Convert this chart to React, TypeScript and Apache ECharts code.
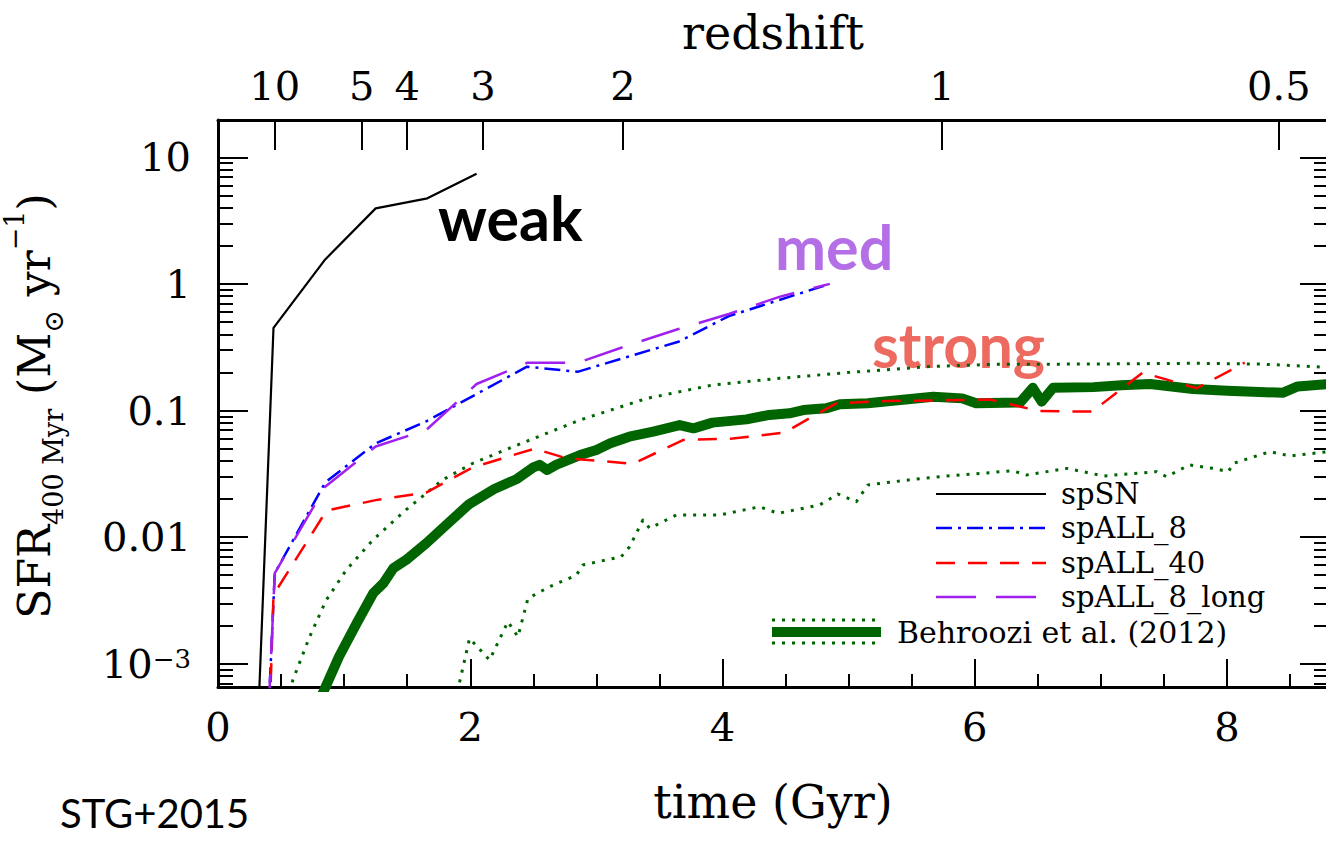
import { useEffect, useRef } from "react";
import * as echarts from "echarts";

// ---------- axis ticks ----------
const TIME_TICKS = [0, 2, 4, 6, 8];
const TIME_MINOR_TICKS = [0.5, 1, 1.5, 2.5, 3, 3.5, 4.5, 5, 5.5, 6.5, 7, 7.5, 8.5];
const REDSHIFT_LABELS = ["10", "5", "4", "3", "2", "1", "0.5"];
const REDSHIFT_TIMES = [0.45, 1.14, 1.5, 2.1, 3.21, 5.74, 8.41];
const SFR_MAJOR = [0.001, 0.01, 0.1, 1, 10];
const SFR_LABELS = ["{b|10}{p|−3}", "0.01", "0.1", "1", "10"];

const X_MIN = 0;
const X_MAX = 8.8;
const SFR_MIN = 6.55e-4;
const SFR_MAX = 19.7;

// ---------- series data (time in Gyr, SFR in Msun/yr) ----------
const SN_TIME = [0.32, 0.44, 0.85, 1.25, 1.66, 2.05];
const SN_SFR = [0.0004, 0.45, 1.56, 3.95, 4.74, 7.4];

const ALL8_TIME = [0.4, 0.45, 0.85, 1.25, 1.65, 2.05, 2.45, 2.85, 3.25, 3.65, 4.05, 4.45, 4.85];
const ALL8_SFR = [0.0004, 0.0052, 0.027, 0.055, 0.082, 0.135, 0.222, 0.202, 0.266, 0.349, 0.557, 0.746, 1.0];

const LONG_TIME = [0.4, 0.45, 0.85, 1.25, 1.65, 2.05, 2.45, 2.85, 3.25, 3.65, 4.05, 4.45, 4.85];
const LONG_SFR = [0.0004, 0.0052, 0.025, 0.052, 0.07, 0.162, 0.238, 0.238, 0.327, 0.44, 0.578, 0.79, 1.0];

const ALL40_TIME = [0.41, 0.44, 0.86, 1.25, 1.65, 2.02, 2.51, 2.76, 3.29, 3.69, 4.08, 4.49, 4.9, 5.3, 5.7, 6.12, 6.51, 6.93, 7.33, 7.76, 8.14];
const ALL40_SFR = [0.0004, 0.0035, 0.0162, 0.0196, 0.0225, 0.0356, 0.05, 0.042, 0.038, 0.0585, 0.06, 0.067, 0.114, 0.119, 0.12, 0.122, 0.099, 0.098, 0.199, 0.15, 0.239];

const BEH_TIME = [0.8, 0.96, 1.1, 1.23, 1.31, 1.39, 1.49, 1.65, 1.81, 1.99, 2.19, 2.37, 2.5, 2.55, 2.61, 2.68, 2.87, 3.0, 3.11, 3.26, 3.45, 3.66, 3.77, 3.92, 4.19, 4.37, 4.53, 4.64, 4.82, 4.93, 5.15, 5.67, 5.9, 6.01, 6.36, 6.46, 6.53, 6.62, 6.94, 7.16, 7.39, 7.73, 8.0, 8.44, 8.56, 8.8];
const BEH_SFR = [0.0005, 0.00114, 0.00209, 0.0036, 0.00431, 0.00568, 0.00659, 0.00893, 0.0125, 0.0182, 0.024, 0.0288, 0.0355, 0.0372, 0.0339, 0.0372, 0.0445, 0.0488, 0.0551, 0.0621, 0.0681, 0.0767, 0.0723, 0.0802, 0.0851, 0.0923, 0.0951, 0.1009, 0.104, 0.112, 0.114, 0.1285, 0.1247, 0.114, 0.116, 0.151, 0.1175, 0.151, 0.153, 0.158, 0.162, 0.148, 0.143, 0.138, 0.155, 0.162];

const BEH_HI_TIME = [0.55, 0.593, 0.726, 0.858, 1.017, 1.228, 1.49, 1.78, 2.02, 2.34, 2.87, 3.4, 3.92, 4.45, 4.98, 5.62, 6.14, 6.94, 7.73, 8.26, 8.8];
const BEH_HI_SFR = [0.0005, 0.000741, 0.00163, 0.00318, 0.0055, 0.00948, 0.0164, 0.0283, 0.0383, 0.0518, 0.0841, 0.1247, 0.1589, 0.1795, 0.199, 0.2218, 0.2317, 0.2328, 0.236, 0.2328, 0.2193];

const BEH_LO_TIME = [1.88, 1.994, 2.153, 2.298, 2.378, 2.457, 2.629, 2.841, 2.893, 3.197, 3.263, 3.369, 3.422, 3.634, 3.977, 4.294, 4.44, 4.77, 4.915, 5.061, 5.153, 5.46, 5.75, 6.3, 6.41, 6.73, 7.02, 7.44, 7.52, 7.7, 7.89, 8.01, 8.05, 8.34, 8.5, 8.8];
const BEH_LO_SFR = [0.0005, 0.001585, 0.00107, 0.002148, 0.001633, 0.00328, 0.00406, 0.00501, 0.00603, 0.007, 0.00839, 0.01365, 0.01175, 0.01496, 0.01496, 0.01738, 0.01542, 0.01795, 0.02188, 0.01905, 0.02582, 0.02818, 0.0302, 0.03342, 0.03097, 0.03491, 0.03041, 0.03289, 0.02999, 0.03715, 0.03491, 0.03289, 0.03828, 0.04732, 0.04375, 0.04732];

const LEGEND_LABELS = ["spSN", "spALL_8", "spALL_40", "spALL_8_long", "Behroozi et al. (2012)"];
const ANNOTATIONS = ["weak", "med", "strong"];
const CREDIT = "STG+2015";

// ---------- helpers ----------
const SERIF = "DejaVu Serif";
const L = (v: number) => Math.log10(v);
const toPts = (t: number[], s: number[]) => t.map((x, i) => [x, L(s[i])]);
const Y_MIN = L(SFR_MIN);
const Y_MAX = L(SFR_MAX);
const Y_MAJOR = SFR_MAJOR.map(L);
const Y_MINOR: number[] = [];
for (let d = -4; d <= 1; d++) {
  for (let k = 2; k <= 9; k++) {
    const v = k * Math.pow(10, d);
    if (v > SFR_MIN && v < SFR_MAX) Y_MINOR.push(L(v));
  }
}
const nearestIdx = (arr: number[], v: number) => {
  let best = 0;
  for (let i = 1; i < arr.length; i++) if (Math.abs(arr[i] - v) < Math.abs(arr[best] - v)) best = i;
  return best;
};

const axisLine = { onZero: false, lineStyle: { color: "#000", width: 3 } };
const tickLine = { color: "#000", width: 2 };

const GREEN = "#006400";
const DOT = [3, 7];

export default function App() {
  const ref = useRef<HTMLDivElement>(null);
  useEffect(() => {
    const chart = echarts.init(ref.current!, null, { renderer: "svg" });
    const baseX = { type: "value", min: X_MIN, max: X_MAX, splitLine: { show: false } };
    const baseY = { type: "value", min: Y_MIN, max: Y_MAX, splitLine: { show: false } };

    const legendY = [494, 528, 563, 597];
    const legendStyles: any[] = [
      { stroke: "#000", lineWidth: 2.2 },
      { stroke: "#0000ff", lineWidth: 2.5, lineDash: [16, 6, 3, 6] },
      { stroke: "#ff0000", lineWidth: 2.5, lineDash: [19, 13] },
      { stroke: "#a020f0", lineWidth: 2.5, lineDash: [40, 20] },
    ];
    const graphics: any[] = [];
    legendY.forEach((y, i) => {
      graphics.push({ type: "line", shape: { x1: 936, y1: y, x2: 1046, y2: y }, style: legendStyles[i], z: 10 });
      graphics.push({
        type: "text", x: 1061, y, z: 10,
        style: { text: LEGEND_LABELS[i], fontFamily: SERIF, fontSize: 29, fill: "#000", align: "left", verticalAlign: "middle" },
      });
    });
    graphics.push({ type: "line", shape: { x1: 772, y1: 620, x2: 881, y2: 620 }, style: { stroke: GREEN, lineWidth: 3, lineDash: DOT }, z: 10 });
    graphics.push({ type: "line", shape: { x1: 772, y1: 632, x2: 881, y2: 632 }, style: { stroke: GREEN, lineWidth: 10 }, z: 10 });
    graphics.push({ type: "line", shape: { x1: 772, y1: 643, x2: 881, y2: 643 }, style: { stroke: GREEN, lineWidth: 3, lineDash: DOT }, z: 10 });
    graphics.push({
      type: "text", x: 897, y: 632, z: 10,
      style: { text: LEGEND_LABELS[4], fontFamily: SERIF, fontSize: 30, fill: "#000", align: "left", verticalAlign: "middle" },
    });
    // annotations
    graphics.push({ type: "text", x: 438, y: 217, z: 1, style: { text: ANNOTATIONS[0], fontFamily: "Lato", fontWeight: "bold", fontSize: 61, fill: "#000", align: "left", verticalAlign: "middle" } });
    graphics.push({ type: "text", x: 775, y: 246, z: 1, style: { text: ANNOTATIONS[1], fontFamily: "Lato", fontWeight: "bold", fontSize: 61, fill: "#b46ee6", align: "left", verticalAlign: "middle" } });
    graphics.push({ type: "text", x: 872, y: 344, z: 1, style: { text: ANNOTATIONS[2], fontFamily: "Lato", fontWeight: "bold", fontSize: 61, fill: "#ec6a60", align: "left", verticalAlign: "middle" } });
    // credit
    graphics.push({ type: "text", x: 60, y: 813, z: 1, style: { text: CREDIT, fontFamily: "Lato", fontSize: 40, fill: "#000", align: "left", verticalAlign: "middle" } });
    // y axis title
    graphics.push({
      type: "text", x: 34, y: 406, rotation: Math.PI / 2, z: 10,
      style: {
        text: "{m|SFR}{s|400 Myr}{m| (M}{s|⊙}{m| yr}{p|−1}{m|)}",
        align: "center", verticalAlign: "middle",
        rich: {
          m: { fontFamily: SERIF, fontSize: 44, lineHeight: 66, fill: "#000" },
          s: { fontFamily: SERIF, fontSize: 27, lineHeight: 28, verticalAlign: "bottom", fill: "#000" },
          p: { fontFamily: SERIF, fontSize: 27, lineHeight: 28, verticalAlign: "top", fill: "#000" },
        },
      },
    });

    const line = (name: string, data: number[][], lineStyle: any) => ({
      name, type: "line", data, xAxisIndex: 0, yAxisIndex: 0,
      showSymbol: false, symbol: "none", silent: true, clip: true,
      lineStyle: { join: "round", ...lineStyle },
    });

    chart.setOption({
      animation: false,
      backgroundColor: "#fff",
      grid: { left: 218, top: 120, width: 1110, height: 567, containLabel: false, outerBoundsMode: "none" },
      xAxis: [
        {
          ...baseX, position: "bottom", axisLine,
          axisTick: { inside: true, length: 28, lineStyle: tickLine, customValues: TIME_TICKS },
          axisLabel: { customValues: TIME_TICKS, fontFamily: SERIF, fontSize: 40, color: "#000", margin: 20 },
          name: "time (Gyr)", nameLocation: "middle", nameGap: 92,
          nameTextStyle: { fontFamily: SERIF, fontSize: 46, color: "#000" },
        },
        {
          ...baseX, position: "bottom", axisLine: { show: false, onZero: false },
          axisTick: { inside: true, length: 13, lineStyle: tickLine, customValues: TIME_MINOR_TICKS },
          axisLabel: { show: false },
        },
        {
          ...baseX, position: "top", axisLine,
          axisTick: { inside: true, length: 30, lineStyle: tickLine, customValues: REDSHIFT_TIMES },
          axisLabel: {
            customValues: REDSHIFT_TIMES, fontFamily: SERIF, fontSize: 40, color: "#000", margin: 14,
            formatter: (v: number) => REDSHIFT_LABELS[nearestIdx(REDSHIFT_TIMES, v)],
          },
          name: "redshift", nameLocation: "middle", nameGap: 64,
          nameTextStyle: { fontFamily: SERIF, fontSize: 46, color: "#000" },
        },
      ],
      yAxis: [
        {
          ...baseY, position: "left", axisLine,
          axisTick: { inside: true, length: 30, lineStyle: tickLine, customValues: Y_MAJOR },
          axisLabel: {
            customValues: Y_MAJOR, fontFamily: SERIF, fontSize: 40, color: "#000", margin: 27,
            formatter: (v: number) => SFR_LABELS[nearestIdx(Y_MAJOR, v)],
            rich: {
              b: { fontFamily: SERIF, fontSize: 40, lineHeight: 36, color: "#000" },
              p: { fontFamily: SERIF, fontSize: 26, lineHeight: 26, verticalAlign: "top", color: "#000" },
            },
          },
        },
        {
          ...baseY, position: "left", axisLine: { show: false, onZero: false },
          axisTick: { inside: true, length: 15, lineStyle: tickLine, customValues: Y_MINOR },
          axisLabel: { show: false },
        },
        {
          ...baseY, position: "right", axisLine,
          axisTick: { inside: true, length: 28, lineStyle: tickLine, customValues: Y_MAJOR },
          axisLabel: { show: false },
        },
        {
          ...baseY, position: "right", axisLine: { show: false, onZero: false },
          axisTick: { inside: true, length: 14, lineStyle: tickLine, customValues: Y_MINOR },
          axisLabel: { show: false },
        },
      ],
      series: [
        line("Behroozi et al. (2012) low", toPts(BEH_LO_TIME, BEH_LO_SFR), { color: GREEN, width: 3, type: DOT }),
        line("Behroozi et al. (2012) high", toPts(BEH_HI_TIME, BEH_HI_SFR), { color: GREEN, width: 3, type: DOT }),
        line("Behroozi et al. (2012)", toPts(BEH_TIME, BEH_SFR), { color: GREEN, width: 10, type: "solid" }),
        line("spSN", toPts(SN_TIME, SN_SFR), { color: "#000", width: 2.2, type: "solid" }),
        line("spALL_8", toPts(ALL8_TIME, ALL8_SFR), { color: "#0000ff", width: 2.5, type: [16, 6, 3, 6] }),
        line("spALL_40", toPts(ALL40_TIME, ALL40_SFR), { color: "#ff0000", width: 2.5, type: [19, 13] }),
        line("spALL_8_long", toPts(LONG_TIME, LONG_SFR), { color: "#a020f0", width: 2.5, type: [40, 20] }),
      ],
      graphic: graphics,
    });
    return () => chart.dispose();
  }, []);
  return (
    <div
      ref={ref}
      style={{ position: "absolute", left: 0, top: 0, width: 1326, height: 841, background: "#fff" }}
    />
  );
}
